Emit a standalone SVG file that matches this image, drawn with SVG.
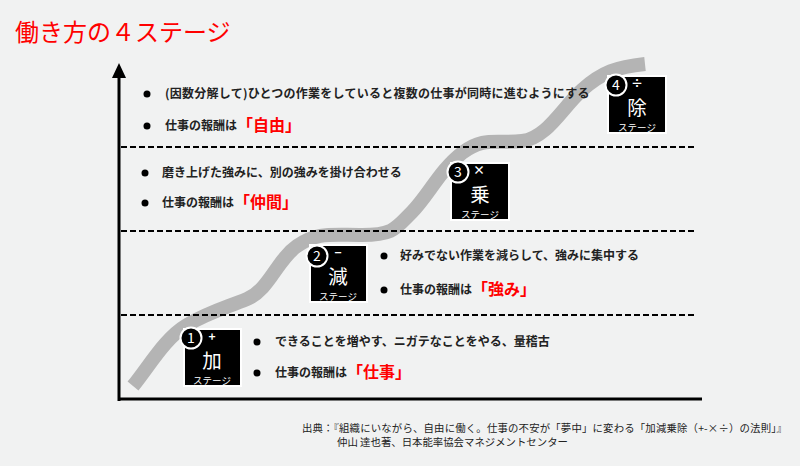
<svg xmlns="http://www.w3.org/2000/svg" width="800" height="466" viewBox="0 0 800 466">
<defs>
<style>
.jp{font-family:"Noto Sans CJK JP","Noto Sans",sans-serif}
.t{font-size:12px;font-weight:bold;fill:#222}
.r{font-size:16px;font-weight:bold;fill:#ff0000}
.box{fill:#000;stroke:#fff;stroke-width:2}
.num{fill:#000;stroke:#fff;stroke-width:2}
.w{fill:#fff;text-anchor:middle}
.op{font-size:12px;font-weight:bold}
.k{font-size:19.5px}
.s{font-size:9.5px}
.dash{stroke:#000;stroke-width:2;stroke-dasharray:6 3;fill:none}
.cite{font-size:10.4px;fill:#222}
</style>
</defs>
<rect width="800" height="466" fill="#f1f2f2"/>
<text class="jp" x="15" y="41" font-size="24" fill="#ff0000">働き方の４ステージ</text>

<g id="connectors">
<path d="M133,386 C150,365 165,338 187,325 S225,308 247,299 S277,260 297,246 S330,235 362,235 S396,228 412,212 S440,170 462,153 S497,144 522,141 S562,108 582,90 S617,67 645,64" fill="none" stroke="#b4b4b4" stroke-width="14"/>
<line class="dash" x1="121" y1="147" x2="695" y2="147"/>
<line class="dash" x1="121" y1="231" x2="695" y2="231"/>
<line class="dash" x1="121" y1="315" x2="695" y2="315"/>
<line x1="119" y1="401" x2="119" y2="74" stroke="#000" stroke-width="3"/>
<polygon points="119,63 112,78 126,78" fill="#000"/>
<line x1="118" y1="399" x2="702" y2="399" stroke="#000" stroke-width="3"/>
</g>

<g id="stage1" class="jp">
<rect class="box" x="184" y="329" width="57" height="57"/>
<circle class="num" cx="191" cy="338" r="10.5"/>
<text class="w" x="191" y="343" font-size="14">1</text>
<text class="w op" x="212" y="341">+</text>
<text class="w k" x="212" y="367.5">加</text>
<text class="w s" x="212" y="384">ステージ</text>
<circle cx="257" cy="342" r="3.5" fill="#000"/>
<text class="t" x="275" y="346">できることを増やす、ニガテなことをやる、量稽古</text>
<circle cx="257" cy="373" r="3.5" fill="#000"/>
<text class="t" x="275" y="377">仕事の報酬は<tspan class="r" dy="1">「仕事」</tspan></text>
</g>

<g id="stage2" class="jp">
<rect class="box" x="310" y="245" width="57" height="57"/>
<circle class="num" cx="317" cy="256" r="10.5"/>
<text class="w" x="317" y="261" font-size="14">2</text>
<text class="w op" x="338" y="257">−</text>
<text class="w k" x="338" y="283.5">減</text>
<text class="w s" x="338" y="300">ステージ</text>
<circle cx="384" cy="256" r="3.5" fill="#000"/>
<text class="t" x="400" y="260">好みでない作業を減らして、強みに集中する</text>
<circle cx="384" cy="290" r="3.5" fill="#000"/>
<text class="t" x="400" y="294">仕事の報酬は<tspan class="r" dy="1">「強み」</tspan></text>
</g>

<g id="stage3" class="jp">
<rect class="box" x="451" y="163" width="58" height="57"/>
<circle class="num" cx="458" cy="172" r="10.5"/>
<text class="w" x="458" y="177" font-size="14">3</text>
<text class="w op" x="479" y="175">×</text>
<text class="w k" x="480" y="201.5">乗</text>
<text class="w s" x="480" y="218">ステージ</text>
<circle cx="145" cy="173" r="3.5" fill="#000"/>
<text class="t" x="162" y="177">磨き上げた強みに、別の強みを掛け合わせる</text>
<circle cx="145" cy="203" r="3.5" fill="#000"/>
<text class="t" x="162" y="207">仕事の報酬は<tspan class="r" dy="1">「仲間」</tspan></text>
</g>

<g id="stage4" class="jp">
<rect class="box" x="608" y="76" width="58" height="57"/>
<circle class="num" cx="616" cy="85" r="10.5"/>
<text class="w" x="616" y="90" font-size="14">4</text>
<text class="w op" x="637" y="88">÷</text>
<text class="w k" x="637" y="114.5">除</text>
<text class="w s" x="637" y="131">ステージ</text>
<circle cx="147" cy="94" r="3.5" fill="#000"/>
<text class="t" x="165" y="98" letter-spacing="0.25">(因数分解して)ひとつの作業をしていると複数の仕事が同時に進むようにする</text>
<circle cx="147" cy="126" r="3.5" fill="#000"/>
<text class="t" x="165" y="130">仕事の報酬は<tspan class="r" dy="1">「自由」</tspan></text>
</g>

<g id="citation" class="jp cite">
<text x="302" y="432" textLength="485" lengthAdjust="spacing">出典：『組織にいながら、自由に働く。仕事の不安が「夢中」に変わる「加減乗除（+-×÷）の法則」』</text>
<text x="337" y="446">仲山 達也著、日本能率協会マネジメントセンター</text>
</g>
</svg>
